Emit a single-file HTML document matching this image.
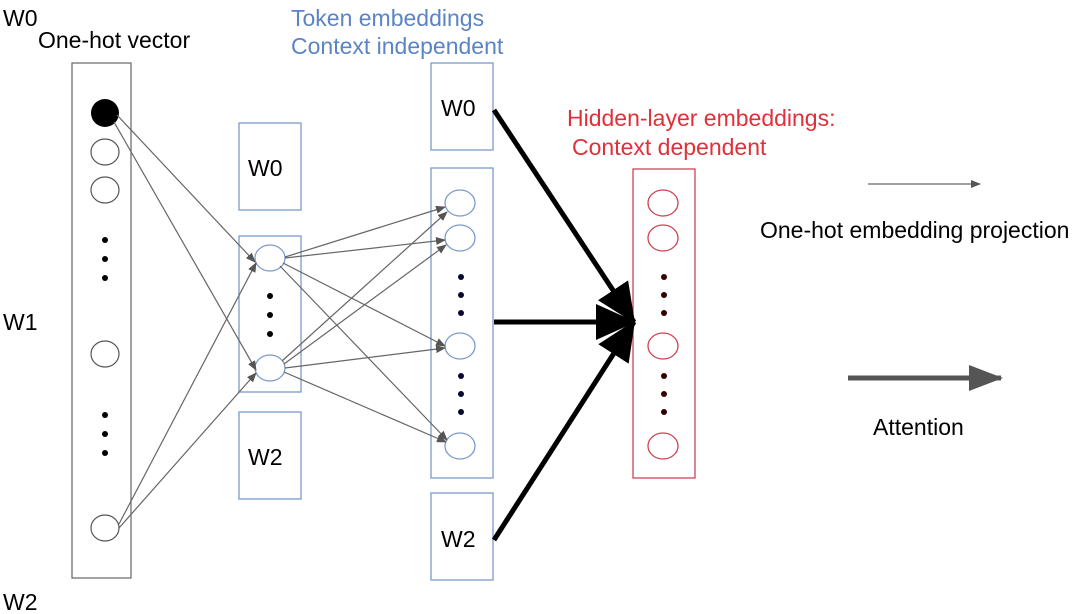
<!DOCTYPE html>
<html><head><style>
html,body{margin:0;padding:0;background:#fff;}
svg{display:block;}
text{font-family:"Liberation Sans",sans-serif;}
</style></head><body>
<svg width="1080" height="614" viewBox="0 0 1080 614" xmlns="http://www.w3.org/2000/svg">
<defs>
<marker id="a" markerWidth="10" markerHeight="8" refX="9" refY="4" orient="auto" markerUnits="userSpaceOnUse"><path d="M0,0 L10,4 L0,8 z" fill="#555"/></marker>
<marker id="b" markerWidth="40" markerHeight="36" refX="38" refY="18" orient="auto" markerUnits="userSpaceOnUse"><path d="M0,0 L40,18 L0,36 z" fill="#000"/></marker>
<marker id="g" markerWidth="34" markerHeight="26" refX="32" refY="13" orient="auto" markerUnits="userSpaceOnUse"><path d="M0,0 L34,13 L0,26 z" fill="#555"/></marker>
</defs>
<g font-size="23">
<text x="3" y="26" fill="#000">W0</text>
<text x="38" y="48" fill="#000">One-hot vector</text>
<text x="3" y="330" fill="#000">W1</text>
<text x="3" y="610" fill="#000">W2</text>
<text x="291" y="26" fill="#5b84c4">Token embeddings</text>
<text x="291" y="54" fill="#5b84c4">Context independent</text>
<text x="567" y="126" fill="#e0303a">Hidden-layer embeddings:</text>
<text x="572" y="155" fill="#e0303a">Context dependent</text>
<text x="760" y="238" fill="#000">One-hot embedding projection</text>
<text x="873" y="435" fill="#000">Attention</text>
</g>
<!-- column 1 -->
<rect x="72" y="63" width="59" height="515" fill="none" stroke="#666" stroke-width="1.2"/>
<circle cx="105" cy="113" r="14" fill="#000"/>
<g fill="none" stroke="#555" stroke-width="1.2">
<ellipse cx="105" cy="152" rx="14" ry="13"/><ellipse cx="105" cy="190" rx="14" ry="13"/>
<ellipse cx="105" cy="354" rx="14" ry="13"/><ellipse cx="105" cy="528" rx="14" ry="13"/>
</g>
<g fill="#000"><circle cx="105" cy="240" r="3"/><circle cx="105" cy="259" r="3"/><circle cx="105" cy="278" r="3"/>
<circle cx="105" cy="415" r="3"/><circle cx="105" cy="434" r="3"/><circle cx="105" cy="453" r="3"/></g>
<!-- column 2 -->
<g fill="none" stroke="#7b9bcb" stroke-width="1.3">
<rect x="239" y="123" width="62" height="87"/><rect x="239" y="236" width="62" height="156"/><rect x="239" y="412" width="62" height="87"/>
<ellipse cx="270" cy="258" rx="15" ry="13"/><ellipse cx="270" cy="368" rx="15" ry="13"/>
</g>
<text x="248" y="176" font-size="23">W0</text>
<text x="248" y="465" font-size="23">W2</text>
<g fill="#000"><circle cx="270" cy="296" r="3"/><circle cx="270" cy="315" r="3"/><circle cx="270" cy="334" r="3"/></g>
<!-- column 3 -->
<g fill="none" stroke="#7b9bcb" stroke-width="1.3">
<rect x="431" y="63" width="62" height="87"/><rect x="431" y="168" width="62" height="310"/><rect x="431" y="493" width="62" height="87"/>
<ellipse cx="460" cy="203" rx="15" ry="13"/><ellipse cx="460" cy="238" rx="15" ry="13"/><ellipse cx="460" cy="346" rx="15" ry="13"/><ellipse cx="460" cy="446" rx="15" ry="13"/>
</g>
<text x="441" y="116" font-size="23">W0</text>
<text x="441" y="547" font-size="23">W2</text>
<g fill="#0a0a30"><circle cx="461" cy="277" r="3"/><circle cx="461" cy="295" r="3"/><circle cx="461" cy="313" r="3"/>
<circle cx="461" cy="376" r="3"/><circle cx="461" cy="394" r="3"/><circle cx="461" cy="412" r="3"/></g>
<!-- red column -->
<g fill="none" stroke="#cc4450" stroke-width="1.3">
<rect x="633" y="169" width="62" height="309"/>
<ellipse cx="663" cy="203" rx="15" ry="13"/><ellipse cx="663" cy="238" rx="15" ry="13"/><ellipse cx="663" cy="346" rx="15" ry="13"/><ellipse cx="663" cy="446" rx="15" ry="13"/>
</g>
<g fill="#300"><circle cx="664" cy="277" r="3"/><circle cx="664" cy="295" r="3"/><circle cx="664" cy="313" r="3"/>
<circle cx="664" cy="376" r="3"/><circle cx="664" cy="394" r="3"/><circle cx="664" cy="412" r="3"/></g>
<!-- thin arrows -->
<g stroke="#666" stroke-width="1.2" marker-end="url(#a)">
<line x1="117" y1="115" x2="255" y2="262"/>
<line x1="114" y1="122" x2="256" y2="370"/>
<line x1="119" y1="524" x2="256" y2="263"/>
<line x1="119" y1="528" x2="256" y2="373"/>
<line x1="285" y1="257" x2="445" y2="207"/>
<line x1="285" y1="258" x2="445" y2="240"/>
<line x1="283" y1="263" x2="445" y2="346"/>
<line x1="280" y1="266" x2="447" y2="440"/>
<line x1="282" y1="361" x2="447" y2="212"/>
<line x1="284" y1="364" x2="446" y2="245"/>
<line x1="285" y1="368" x2="445" y2="348"/>
<line x1="284" y1="372" x2="446" y2="442"/>
<line x1="868" y1="184" x2="980" y2="184"/>
</g>
<!-- thick arrows -->
<g stroke="#000" stroke-width="5" marker-end="url(#b)">
<line x1="494" y1="110" x2="634" y2="322"/>
<line x1="494" y1="322" x2="634" y2="322"/>
<line x1="494" y1="540" x2="634" y2="322"/>
</g>
<line x1="848" y1="378" x2="1001" y2="378" stroke="#555" stroke-width="5" marker-end="url(#g)"/>
</svg>
</body></html>
